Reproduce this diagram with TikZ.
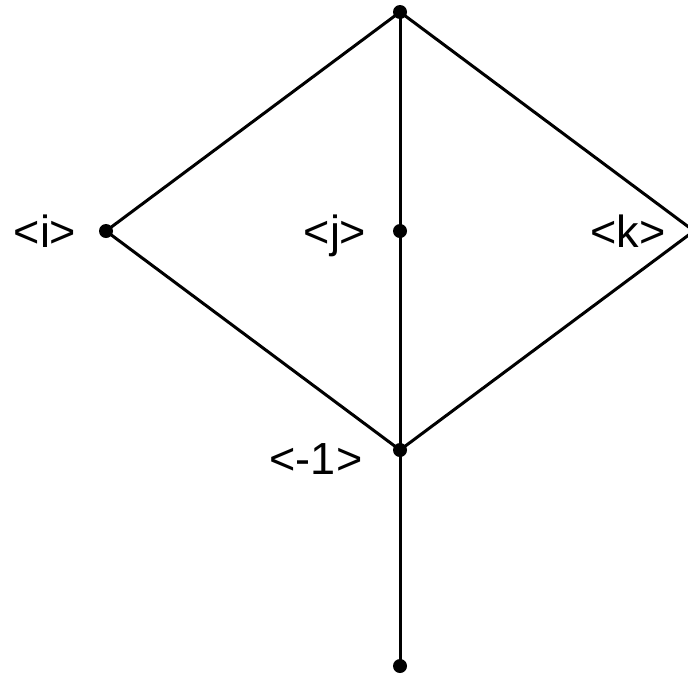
\documentclass[tikz,border=0pt]{standalone}
\usepackage{fontspec}
\setmainfont{Liberation Sans}
\begin{document}
\begin{tikzpicture}[x=1pt,y=-1pt,
  dot/.style={circle,fill=black,inner sep=0pt,minimum size=14pt},
  lab/.style={font=\fontsize{45}{50}\selectfont,inner sep=0pt,anchor=base},
  edge/.style={line width=3pt}]
\useasboundingbox (0,0) rectangle (688,678);
\begin{scope}
\clip (0,0) rectangle (688,678);
\node[dot] (top) at (400,12) {};
\node[dot] (i) at (106,231) {};
\node[dot] (j) at (400,231) {};
\coordinate (k) at (694,231);
\node[dot] (m) at (400,450) {};
\node[dot] (bot) at (400,666) {};
\draw[edge] (top.center) -- (i.center) -- (m.center) -- (k) -- cycle;
\draw[edge] (top.center) -- (j.center) -- (m.center) -- (bot.center);
\node[lab] (li) at (45,247) {<i>};
\node[lab] (lj) at (335,247) {<j>};
\node[lab] (lk) at (628,247) {<k>};
\node[lab] (lm) at (316,474) {<-1>};
\end{scope}
\end{tikzpicture}
\end{document}
